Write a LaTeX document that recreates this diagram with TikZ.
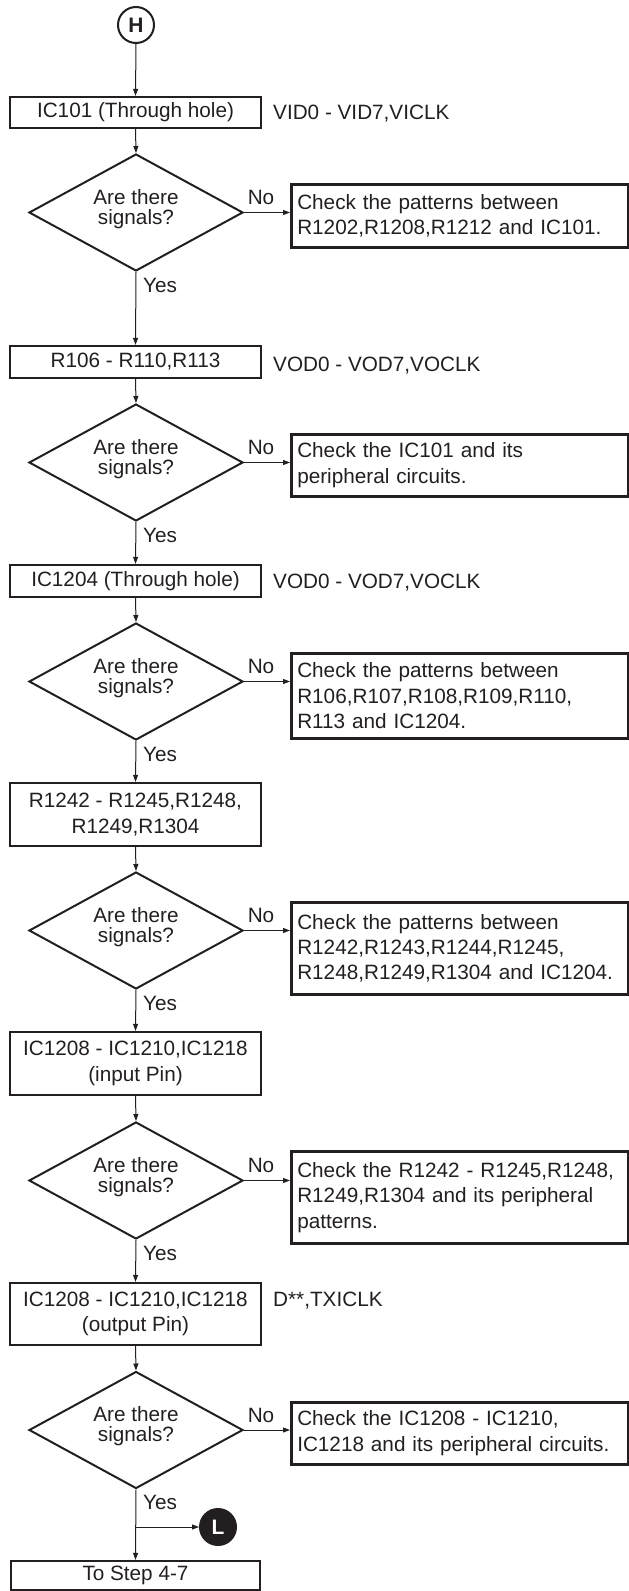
\documentclass[tikz,border=0pt]{standalone}
\usepackage{fontspec}
\setmainfont{Liberation Sans}
\usetikzlibrary{arrows.meta,shapes.geometric}
\definecolor{ink}{HTML}{231F20}
\begin{document}
\begin{tikzpicture}[x=1bp,y=-1bp,
  txt/.style={font=\fontsize{20.8}{25.5}\selectfont, text=ink, inner sep=0pt},
  stepbox/.style={txt, draw=ink, line width=2.3bp, rectangle, minimum width=251bp, align=center},
  chkbox/.style={txt, draw=ink, line width=2.5bp, rectangle, anchor=north west, inner xsep=6bp, inner ysep=0pt, text width=325bp, align=left},
  decide/.style={draw=ink, line width=2bp, diamond, minimum width=214bp, minimum height=117bp, inner sep=0pt},
  dtext/.style={font=\fontsize{20.8}{20}\selectfont, text=ink, inner sep=0pt, align=center},
  lbl/.style={font=\fontsize{20.8}{25.5}\selectfont, text=ink, inner sep=0pt},
  arr/.style={draw=ink, line width=1bp, -{Triangle[length=7bp,width=5bp]}},
  conn/.style={draw=ink, line width=2bp, circle, minimum size=36bp, inner sep=0pt, font=\fontsize{21}{21}\selectfont\bfseries}
]
\useasboundingbox[fill=white] (0,0) rectangle (629,1591);

% start connector
\node[conn, text=ink] (H) at (136,25) {H};

% step 1
\node[stepbox, minimum height=31bp] (b1) at (135.5,112.5) {IC101 (Through hole)};
\node[lbl, anchor=base west] (s1) at (273,120) {VID0 - VID7,VICLK};
\node[decide] (d1) at (136,212.5) {};
\node[dtext] (t1) at (136,209) {Are there\\signals?};
\node[chkbox, minimum height=63bp] (c1) at (290,183) {Check the patterns between\\R1202,R1208,R1212 and IC101.};

% step 2
\node[stepbox, minimum height=32bp] (b2) at (135.5,362) {R106 - R110,R113};
\node[lbl, anchor=base west] (s2) at (273,371) {VOD0 - VOD7,VOCLK};
\node[decide] (d2) at (136,462.5) {};
\node[dtext] (t2) at (136,459) {Are there\\signals?};
\node[chkbox, minimum height=62bp] (c2) at (290,433) {Check the IC101 and its\\peripheral circuits.};

% step 3
\node[stepbox, minimum height=32bp] (b3) at (135.5,581) {IC1204 (Through hole)};
\node[lbl, anchor=base west] (s3) at (273,588) {VOD0 - VOD7,VOCLK};
\node[decide] (d3) at (136,681.5) {};
\node[dtext] (t3) at (136,678) {Are there\\signals?};
\node[chkbox, minimum height=85bp] (c3) at (290,652) {Check the patterns between\\R106,R107,R108,R109,R110,\\R113 and IC1204.};

% step 4
\node[stepbox, minimum height=63bp] (b4) at (135.5,814.5) {R1242 - R1245,R1248,\\R1249,R1304};
\node[decide] (d4) at (136,930.5) {};
\node[dtext] (t4) at (136,927) {Are there\\signals?};
\node[chkbox, minimum height=92bp] (c4) at (290,901) {Check the patterns between\\R1242,R1243,R1244,R1245,\\R1248,R1249,R1304 and IC1204.};

% step 5
\node[stepbox, minimum height=63bp] (b5) at (135.5,1063.5) {IC1208 - IC1210,IC1218\\(input Pin)};
\node[decide] (d5) at (136,1180.5) {};
\node[dtext] (t5) at (136,1177) {Are there\\signals?};
\node[chkbox, minimum height=92bp] (c5) at (290,1150) {Check the R1242 - R1245,R1248,\\R1249,R1304 and its peripheral\\patterns.};

% step 6
\node[stepbox, minimum height=62bp] (b6) at (135.5,1314) {IC1208 - IC1210,IC1218\\(output Pin)};
\node[lbl, anchor=base west] (s6) at (273,1306) {D**,TXICLK};
\node[decide] (d6) at (136,1430) {};
\node[dtext] (t6) at (136,1426.5) {Are there\\signals?};
\node[chkbox, minimum height=62bp] (c6) at (290,1401) {Check the IC1208 - IC1210,\\IC1218 and its peripheral circuits.};

% end
\node[stepbox, minimum width=249bp, minimum height=29bp] (ts) at (135.5,1575.5) {To Step 4-7};
\node[conn, fill=ink, text=white] (L) at (218,1527) {L};
\coordinate (j) at (136,1527);

% No / Yes labels
\foreach \d/\yb in {d1/212.5, d2/462.5, d3/681.5, d4/930.5, d5/1180.5, d6/1430}{
  \node[lbl, anchor=base] (no-\d) at (261,\yb-8) {No};
}
\foreach \d/\yb in {d1/271, d2/521, d3/740, d4/989, d5/1239, d6/1488}{
  \node[lbl, anchor=base west] (yes-\d) at (143,\yb+21) {Yes};
}

% connectors
\draw[arr] (H.south) -- (b1.north);
\draw[arr] (b1.south) -- (d1.north);
\draw[arr] (d1.east) -- (d1.east -| c1.west);
\draw[arr] (d1.south) -- (b2.north);
\draw[arr] (b2.south) -- (d2.north);
\draw[arr] (d2.east) -- (d2.east -| c2.west);
\draw[arr] (d2.south) -- (b3.north);
\draw[arr] (b3.south) -- (d3.north);
\draw[arr] (d3.east) -- (d3.east -| c3.west);
\draw[arr] (d3.south) -- (b4.north);
\draw[arr] (b4.south) -- (d4.north);
\draw[arr] (d4.east) -- (d4.east -| c4.west);
\draw[arr] (d4.south) -- (b5.north);
\draw[arr] (b5.south) -- (d5.north);
\draw[arr] (d5.east) -- (d5.east -| c5.west);
\draw[arr] (d5.south) -- (b6.north);
\draw[arr] (b6.south) -- (d6.north);
\draw[arr] (d6.east) -- (d6.east -| c6.west);
\draw[arr] (d6.south) -- (ts.north);
\draw[arr] (j) -- (L.west);
\end{tikzpicture}
\end{document}
